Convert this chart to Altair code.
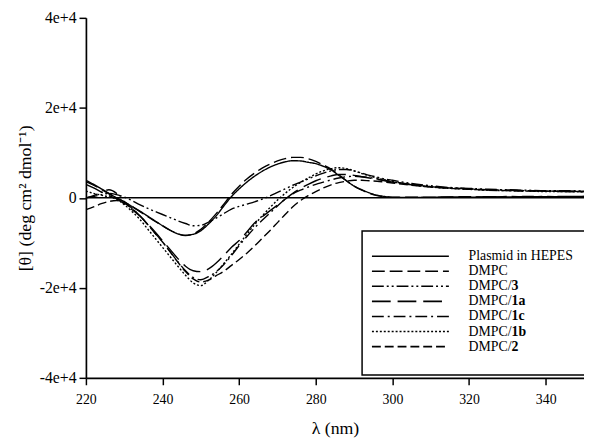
import altair as alt
import pandas as pd

wavelength = [220, 222, 224, 226, 228, 230, 232, 234, 236, 238, 240, 242, 244, 246, 248,
              250, 252, 254, 256, 258, 260, 262, 264, 266, 268, 270, 272, 274, 276, 278,
              280, 282, 284, 286, 288, 290, 292, 294, 296, 298, 300, 305, 310, 315, 320,
              325, 330, 335, 340, 345, 350]

plasmid = [3900, 3000, 2000, 1000, 0, -900, -1900, -2900, -4000, -5100, -6200, -7200, -8000, -8300, -8100,
           -7300, -5800, -4000, -1800, 300, 2000, 3500, 4800, 5900, 6800, 7500, 8000, 8250, 8200, 7900,
           7600, 7000, 6200, 5000, 3800, 2600, 1800, 1100, 600, 300, 150, 100, 150, 200, 150,
           250, 200, 300, 250, 300, 300]

dmpc = [3600, 2800, 1900, 900, 0, -900, -1900, -3000, -4100, -5200, -6200, -7200, -8000, -8400, -8000,
        -7000, -5400, -3500, -1400, 800, 2600, 4200, 5500, 6600, 7500, 8200, 8700, 9000, 9000, 8700,
        8100, 7300, 6400, 5100, 3800, 2600, 1700, 1000, 500, 250, 100, 150, 100, 200, 250,
        150, 300, 250, 300, 200, 300]

dmpc_3 = [0, 300, 700, 1000, 700, 200, -600, -1500, -2300, -3000, -3700, -4400, -5100, -5700, -6200,
          -6100, -5400, -4500, -3500, -2500, -1900, -1400, -900, -300, 400, 1200, 2000, 2800, 3500, 4200,
          4900, 5500, 6000, 6300, 6300, 6000, 5500, 5000, 4600, 4200, 3900, 3200, 2700, 2300, 2100,
          1900, 1800, 1700, 1600, 1600, 1500]

dmpc_1a = [3000, 2200, 1300, 500, -200, -1300, -2600, -4000, -5700, -7500, -9500, -11500, -13500, -15200, -16200,
           -16400, -15800, -14500, -12800, -11000, -9500, -7600, -5600, -4200, -2900, -1600, -300, 1000, 2100, 3000,
           3800, 4400, 4900, 5200, 5200, 5000, 4700, 4400, 4100, 3800, 3500, 2900, 2500, 2200, 2000,
           1800, 1700, 1600, 1500, 1400, 1400]

dmpc_1c = [0, 500, 1200, 1800, 1000, -800, -2300, -3900, -5800, -7800, -9800, -12000, -14200, -16200, -17700,
           -18200, -17500, -16400, -14800, -12800, -10600, -8600, -6700, -5000, -3400, -1800, -300, 900, 1700, 2400,
           3000, 3500, 4000, 4400, 4700, 4800, 4700, 4500, 4200, 3900, 3600, 3000, 2500, 2200, 2000,
           1800, 1700, 1600, 1500, 1500, 1400]

dmpc_1b = [1500, 1000, 600, 200, -300, -1500, -3000, -4700, -6800, -8900, -11000, -13100, -15200, -17200, -18900,
           -19500, -18300, -16600, -14600, -12500, -10300, -8100, -6000, -4000, -2200, -500, 1000, 2300, 3400, 4400,
           5300, 6000, 6500, 6700, 6500, 6000, 5400, 4900, 4400, 4000, 3600, 2900, 2400, 2100, 1900,
           1700, 1600, 1500, 1400, 1400, 1300]

dmpc_2 = [-2600, -2000, -1300, -800, -600, -1200, -2400, -3900, -5800, -7800, -9800, -12000, -14300, -16400, -18000,
          -18700, -18300, -17300, -16300, -15000, -13700, -12300, -10700, -9000, -7300, -5500, -3700, -2000, -600, 500,
          1400, 2200, 2900, 3400, 3700, 3900, 3900, 3800, 3700, 3500, 3300, 2800, 2400, 2100, 1900,
          1700, 1600, 1500, 1500, 1400, 1400]

series_names = ["Plasmid in HEPES", "DMPC", "DMPC/3", "DMPC/1a", "DMPC/1c", "DMPC/1b", "DMPC/2"]
series_values = [plasmid, dmpc, dmpc_3, dmpc_1a, dmpc_1c, dmpc_1b, dmpc_2]
legend_prefix = ["Plasmid in HEPES", "DMPC", "DMPC/", "DMPC/", "DMPC/", "DMPC/", "DMPC/"]
legend_suffix = ["", "", "3", "1a", "1c", "1b", "2"]
dash_patterns = [[1, 0], [13, 5], [12, 3, 2, 3, 2, 3], [19, 7], [12, 4, 2, 4], [2, 2], [9, 4]]

x_ticks = [220, 240, 260, 280, 300, 320, 340]
y_ticks = [-40000, -20000, 0, 20000, 40000]

rows = []
for name, vals in zip(series_names, series_values):
    for w, v in zip(wavelength, vals):
        rows.append({"series": name, "wl": w, "theta": v})
df = pd.DataFrame(rows)

legend_df = pd.DataFrame({"series": series_names, "prefix": legend_prefix, "suffix": legend_suffix})

FONT = "Liberation Serif"

dash_scale = alt.Scale(domain=series_names, range=dash_patterns)

x_axis = alt.Axis(values=x_ticks, title="λ (nm)", format="d", labelPadding=8, titlePadding=13,
                  labelFontSize=14, tickSize=7, labelFlush=False)
y_axis = alt.Axis(values=y_ticks, title="[θ] (deg cm² dmol⁻¹)",
                  labelExpr="datum.value == 0 ? '0' : (datum.value < 0 ? '-' : '') + toString(abs(datum.value) / 10000) + 'e+4'",
                  labelPadding=3, titlePadding=5, labelFontSize=16, tickSize=7, labelFlush=False)

lines = alt.Chart(df).mark_line(color="black", strokeWidth=1.4, interpolate="monotone", clip=True).encode(
    x=alt.X("wl:Q", scale=alt.Scale(domain=[220, 350], nice=False), axis=x_axis),
    y=alt.Y("theta:Q", scale=alt.Scale(domain=[-40000, 40000], nice=False), axis=y_axis),
    strokeDash=alt.StrokeDash("series:N", scale=dash_scale, legend=None),
    detail="series:N",
)

zero = alt.Chart(pd.DataFrame({"z": [0]})).mark_rule(color="black", strokeWidth=1.5).encode(
    y=alt.Y("z:Q", axis=y_axis)
)

main = alt.layer(zero, lines)

box = alt.Chart(pd.DataFrame({"b": [0]})).mark_rect(fill="white", stroke="black", strokeWidth=1.5).encode(
    x=alt.value(280), x2=alt.value(520), y=alt.value(216), y2=alt.value(362)
)

ly = alt.Y("series:N", sort=series_names, scale=alt.Scale(range=[234, 341], padding=0), axis=None)

leg_lines = alt.Chart(legend_df).mark_rule(color="black", strokeWidth=1.6).encode(
    x=alt.value(290), x2=alt.value(368), y=ly,
    strokeDash=alt.StrokeDash("series:N", scale=dash_scale, legend=None),
)
leg_text = alt.Chart(legend_df).mark_text(align="left", baseline="middle", font=FONT, fontSize=14,
                                          color="black").encode(
    x=alt.value(388), y=ly, text="prefix:N"
)
leg_bold = alt.Chart(legend_df).mark_text(align="left", baseline="middle", font=FONT, fontSize=14,
                                          fontWeight="bold", color="black").encode(
    x=alt.value(431.6), y=ly, text="suffix:N"
)
legend = alt.layer(leg_lines, leg_text, leg_bold)

chart = alt.layer(main, box, legend).resolve_scale(y="independent").properties(
    width=505, height=365,
    autosize=alt.AutoSizeParams(type="none"),
    padding={"left": 79, "top": 7, "right": 0, "bottom": 58},
).configure_view(stroke=None).configure_axis(
    grid=False,
    labelFont=FONT, labelColor="black",
    titleFont=FONT, titleFontSize=18, titleFontWeight="normal", titleColor="black",
    domainColor="black", domainWidth=1.7,
    tickColor="black", tickWidth=1.5, ticks=True,
)

chart.save("out.html", embed_options={"renderer": "svg", "actions": False})
